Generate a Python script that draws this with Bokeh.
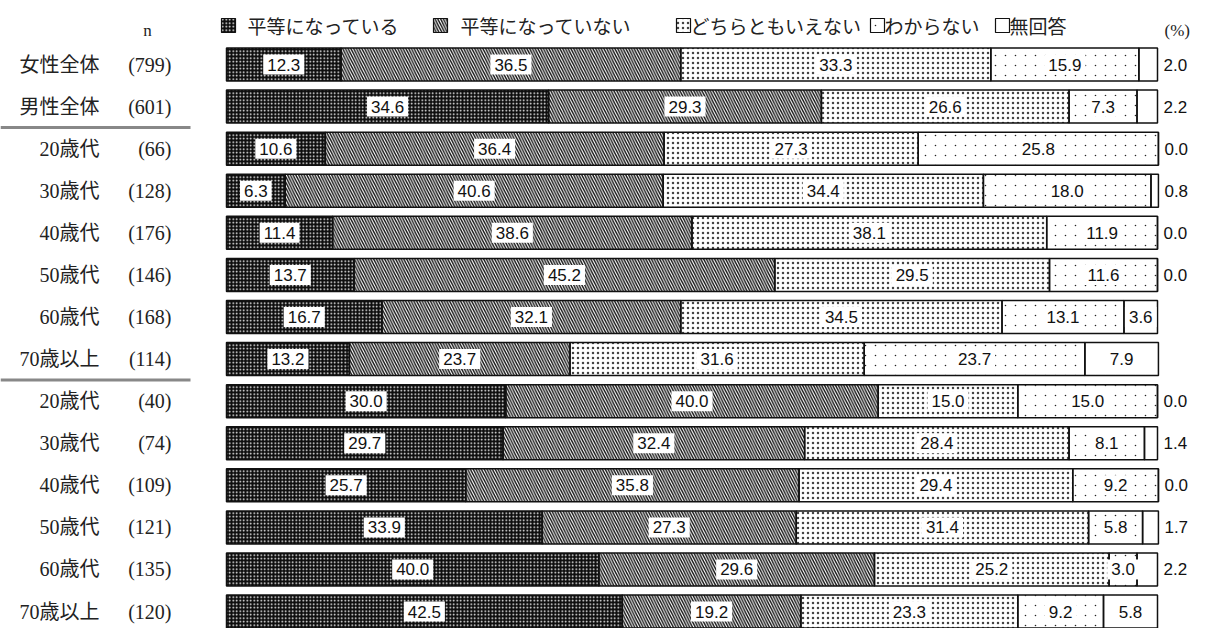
from bokeh.plotting import figure
from bokeh.models import Range1d, ColumnDataSource
from bokeh.core.properties import value
from bokeh.embed import file_html
from bokeh.resources import INLINE

# --- data -------------------------------------------------------------
groups = ["女性全体", "男性全体",
          "20歳代", "30歳代", "40歳代", "50歳代", "60歳代", "70歳以上",
          "20歳代", "30歳代", "40歳代", "50歳代", "60歳代", "70歳以上"]
counts = ["(799)", "(601)",
          "(66)", "(128)", "(176)", "(146)", "(168)", "(114)",
          "(40)", "(74)", "(109)", "(121)", "(135)", "(120)"]
categories = ["平等になっている", "平等になっていない", "どちらともいえない", "わからない", "無回答"]

equal     = [12.3, 34.6, 10.6, 6.3, 11.4, 13.7, 16.7, 13.2, 30.0, 29.7, 25.7, 33.9, 40.0, 42.5]
not_equal = [36.5, 29.3, 36.4, 40.6, 38.6, 45.2, 32.1, 23.7, 40.0, 32.4, 35.8, 27.3, 29.6, 19.2]
neither   = [33.3, 26.6, 27.3, 34.4, 38.1, 29.5, 34.5, 31.6, 15.0, 28.4, 29.4, 31.4, 25.2, 23.3]
dont_know = [15.9, 7.3, 25.8, 18.0, 11.9, 11.6, 13.1, 23.7, 15.0, 8.1, 9.2, 5.8, 3.0, 9.2]
no_answer = [2.0, 2.2, 0.0, 0.8, 0.0, 0.0, 3.6, 7.9, 0.0, 1.4, 0.0, 1.7, 2.2, 5.8]

series = [equal, not_equal, neither, dont_know, no_answer]

# --- layout helpers (pixel -> data units) ------------------------------
W, H = 1221, 628
BAR_LEFT, PX_PER_PCT = 226, 9.31
ROW0, ROW_STEP = 64, 42.08


def xd(px):
    return (px - BAR_LEFT) / PX_PER_PCT


def yd(py):
    return (py - ROW0) / ROW_STEP


p = figure(width=W, height=H,
           x_range=Range1d(xd(0), xd(W)), y_range=Range1d(yd(H), yd(0)),
           x_axis_location=None, y_axis_location=None,
           toolbar_location=None, output_backend="svg",
           min_border=0, outline_line_color=None,
           background_fill_color="white", border_fill_color="white")
p.grid.visible = False

SPARSE = 10
styles = [
    dict(fill_color="#0d0d0d", hatch_pattern="dot", hatch_color="white",
         hatch_scale=3.5, hatch_weight=1.0),
    dict(fill_color="white", hatch_pattern="left_diagonal_line", hatch_color="#111111",
         hatch_scale=5.5, hatch_weight=1.4),
    dict(fill_color="white", hatch_pattern="dot", hatch_color="#444444",
         hatch_scale=5),
    dict(fill_color="white", hatch_pattern="dot", hatch_color="#222222",
         hatch_scale=SPARSE),
    dict(fill_color="white"),
]
# a white ring over the coarse dots trims them down to small specks
trim = dict(fill_alpha=0, line_color=None, hatch_pattern="ring", hatch_color="white",
            hatch_scale=SPARSE, hatch_weight=3.4)

rows = list(range(len(groups)))
bar_h = 33 / ROW_STEP
left = [0.0] * len(rows)

lab_x, lab_y, lab_t = [], [], []
out_x, out_y, out_t = [], [], []
sources = []

for k, vals in enumerate(series):
    right = [a + b for a, b in zip(left, vals)]
    src = ColumnDataSource(dict(y=rows, left=left, right=right))
    sources.append(src)
    p.hbar(y="y", left="left", right="right", height=bar_h, source=src,
           line_color=None, **styles[k])
    if k == 3:
        p.hbar(y="y", left="left", right="right", height=bar_h, source=src, **trim)
    for i, v in enumerate(vals):
        text = f"{v:.1f}"
        if k == 4 and v < 3:
            out_x.append(right[i] + xd(BAR_LEFT + 6))
            out_y.append(i)
            out_t.append(text)
        else:
            lab_x.append(left[i] + v / 2)
            lab_y.append(i)
            lab_t.append(text)
    left = right

# segment outlines on top of the fills
for src in sources:
    p.hbar(y="y", left="left", right="right", height=bar_h, source=src,
           fill_color=None, line_color="#111111", line_width=1.5)

num_font = value("Liberation Sans Narrow, Liberation Sans")
p.text(x=lab_x, y=lab_y, text=lab_t, text_align="center", text_baseline="middle",
       text_font=num_font, text_font_size="17px", text_color="#111111",
       background_fill_color="white", padding=4)
p.text(x=out_x, y=out_y, text=out_t, text_align="left", text_baseline="middle",
       text_font=num_font, text_font_size="17px", text_color="#111111")

# row labels
p.text(x=[xd(99)] * len(rows), y=rows, text=groups, text_align="right",
       text_baseline="middle", text_font=value("Liberation Serif, Noto Sans CJK JP"),
       text_font_size="20px", text_color="#222222")
p.text(x=[xd(171)] * len(rows), y=rows, text=counts, text_align="right",
       text_baseline="middle", text_font=value("Liberation Serif"),
       text_font_size="20px", text_color="#222222")
p.text(x=[xd(147)], y=[yd(30)], text=["n"], text_align="center",
       text_baseline="middle", text_font=value("Liberation Serif"),
       text_font_size="17px", text_color="#222222")

# group separators
p.segment(x0=[xd(0), xd(0)], x1=[xd(190), xd(190)], y0=[1.5, 7.5], y1=[1.5, 7.5],
          line_color="#888888", line_width=3)

# legend
sq_left = [221, 433, 676, 870, 995]
txt_left = [247, 460, 690, 884, 1009]
LEG_Y, SQ = 25, 14
for k, name in enumerate(categories):
    box = dict(left=[xd(sq_left[k])], right=[xd(sq_left[k] + SQ)],
               top=[yd(LEG_Y - SQ / 2)], bottom=[yd(LEG_Y + SQ / 2)])
    p.quad(line_color=None, **box, **styles[k])
    if k == 3:
        p.quad(**box, **trim)
    p.quad(fill_color=None, line_color="#111111", line_width=1.2, **box)
p.text(x=[xd(v) for v in txt_left], y=[yd(LEG_Y)] * len(categories), text=categories,
       text_align="left", text_baseline="middle", text_font=value("Noto Sans CJK JP"),
       text_font_size="19px", text_color="#222222")
p.text(x=[xd(1164)], y=[yd(30)], text=["(%)"], text_align="left",
       text_baseline="middle", text_font=value("Liberation Serif"),
       text_font_size="17px", text_color="#222222")

open("out.html", "w").write(file_html(p, INLINE))
